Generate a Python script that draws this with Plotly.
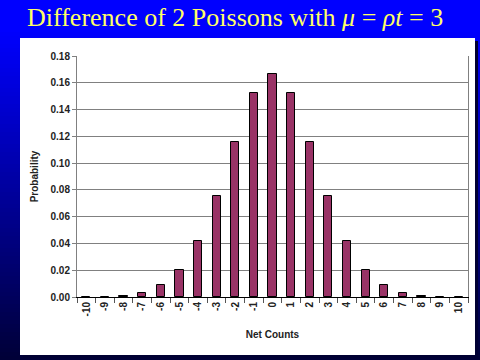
import plotly.graph_objects as go

# Data
net_counts = [-10, -9, -8, -7, -6, -5, -4, -3, -2, -1, 0, 1, 2, 3, 4, 5, 6, 7, 8, 9, 10]
probability = [0.0, 0.0003, 0.0010, 0.0032, 0.0086, 0.0203, 0.0422, 0.0757, 0.1160, 0.1521,
               0.1667, 0.1521, 0.1160, 0.0757, 0.0422, 0.0203, 0.0086, 0.0032, 0.0010, 0.0003, 0.0]
categories = [str(v) for v in net_counts]

W, H = 480, 360
ML, MR, MT, MB = 77, 12, 56, 63
PW, PH = W - ML - MR, H - MT - MB


def px2x(px):
    return (px - ML) / PW


def px2y(py):
    return (H - MB - py) / PH


shapes = []
# blue vertical gradient background
step = 4
for py in range(0, H, step):
    mid = py + step / 2
    if mid < 30:
        b = 255
    else:
        b = 255 - (255 - 55) * (mid - 30) / (H - 30)
    shapes.append(dict(type="rect", xref="paper", yref="paper", layer="below",
                       x0=px2x(0), x1=px2x(W), y0=px2y(py + step + 0.5), y1=px2y(py),
                       fillcolor=f"rgb(0,0,{int(b)})", line=dict(width=0)))
# panel shadow
shapes.append(dict(type="rect", xref="paper", yref="paper", layer="below",
                   x0=px2x(23), x1=px2x(478), y0=px2y(358), y1=px2y(41),
                   fillcolor="#000033", line=dict(width=0)))
# white panel
shapes.append(dict(type="rect", xref="paper", yref="paper", layer="below",
                   x0=px2x(20), x1=px2x(475), y0=px2y(355), y1=px2y(38),
                   fillcolor="#FFFFFF", line=dict(width=0)))

fig = go.Figure()
fig.add_trace(go.Bar(
    x=categories, y=probability, width=0.44,
    marker=dict(color="#993366", line=dict(color="#000000", width=1)),
))

tickfont = dict(family="Liberation Sans, Arial", size=10, color="#222222", weight="bold")

fig.update_layout(
    width=W, height=H,
    margin=dict(l=ML, r=MR, t=MT, b=MB, autoexpand=False),
    paper_bgcolor="#000080",
    plot_bgcolor="#FFFFFF",
    showlegend=False,
    shapes=shapes,
    bargap=0,
    annotations=[dict(
        text="Difference of 2 Poissons with <i>μ</i> = <i>ρt</i> = 3",
        xref="paper", yref="paper", x=px2x(235), y=px2y(18),
        xanchor="center", yanchor="middle", showarrow=False,
        font=dict(family="Liberation Serif, Times New Roman", size=26, color="#FFFF66"),
    )],
    xaxis=dict(
        type="category", tickangle=-90, tickson="boundaries", automargin=False,
        ticks="outside", ticklen=5, tickcolor="#555555",
        showline=True, linecolor="#000000", linewidth=1,
        showgrid=False, tickfont=tickfont,
        title=dict(text="Net Counts", standoff=15,
                   font=dict(family="Liberation Sans, Arial", size=10, color="#222222", weight="bold")),
    ),
    yaxis=dict(
        range=[0, 0.18], dtick=0.02, tickformat=".2f", automargin=False,
        ticks="outside", ticklen=4, tickcolor="#808080",
        showline=True, linecolor="#808080", linewidth=1, mirror=True,
        showgrid=True, gridcolor="#808080", gridwidth=1,
        zeroline=False, tickfont=tickfont,
        title=dict(text="Probability", standoff=10,
                   font=dict(family="Liberation Sans, Arial", size=10, color="#222222", weight="bold")),
    ),
)

fig.write_html("out.html", config={"displayModeBar": False},
               post_script="document.body.style.margin='0';document.body.style.overflow='hidden';")
